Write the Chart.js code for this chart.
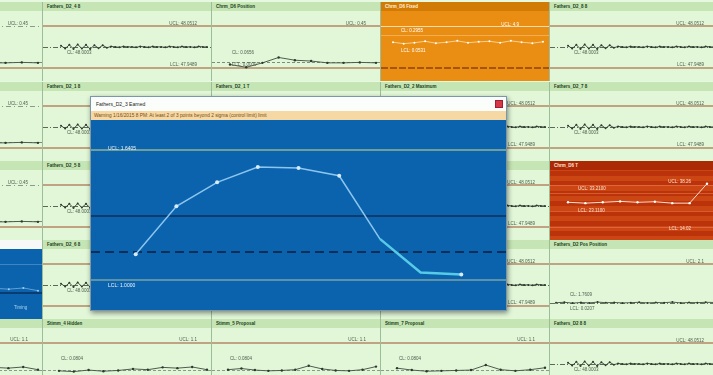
<!DOCTYPE html>
<html>
<head>
<meta charset="utf-8">
<script src="https://cdn.jsdelivr.net/npm/chart.js@4/dist/chart.umd.min.js"></script>
<style>
  body { margin:0; width:713px; height:375px; overflow:hidden; background:#e6f8de; position:relative; font-family:"Liberation Sans", Arial, sans-serif; }
  .tile { position:absolute; width:169px; height:79px; background:#e1f7d7; border-left:1px solid #9dbd99; box-sizing:border-box; overflow:hidden; }
  .tile .hd { height:9px; background:#c5e6b4; font:bold 4.5px "Liberation Sans", Arial; color:#1b3d1b; line-height:9px; padding-left:4px; white-space:nowrap; }
  .tile canvas { display:block; }
  .tile.orange { background:#e98e12; }
  .tile.orange .hd { background:#d27a06; color:#fff2da; }
  .tile.red { background:repeating-linear-gradient(#bb330a 0 5px, #cb4612 5px 10px); }
  .tile.red .hd { background:#ab2a05; color:#ffe4d6; }
  .tile.blue { background:#0b62ad; }
  .tile.blue .hd { background:#f6f9f6; color:#333; }
  #popup { position:absolute; left:90px; top:96px; width:417px; height:215px; background:#0b63ae; border:1px solid #7d97aa; box-sizing:border-box; box-shadow:1px 2px 5px rgba(0,0,0,.45); }
  #popup .title { height:14px; background:#fbfdfb; font:5px "Liberation Sans", Arial; line-height:14px; padding-left:5px; color:#222; position:relative; }
  #popup .close { position:absolute; right:3px; top:3px; width:8px; height:8px; background:#d63848; border:1px solid #9c2030; box-sizing:border-box; }
  #popup .alert { height:9px; background:#f6d8a4; font:4.8px "Liberation Sans", Arial; color:#7a4a12; line-height:9px; padding-left:3px; white-space:nowrap; }
  #popup canvas { display:block; }
</style>
</head>
<body>
<script>
// --- data ---
const noisyValues = [48.003, 47.996, 48.005, 47.995, 48.006, 47.996, 48.005, 47.995, 48.004, 47.997, 48.004, 47.998,
  48.001, 48.000, 47.999, 48.001, 48.000, 48.000, 47.999, 48.001, 48.000, 47.999, 48.001, 48.000,
  48.000, 47.999, 48.001, 48.000, 47.999, 48.001, 48.000, 48.000, 47.999, 48.001, 48.000, 48.000];
const noisyLimits = [48.0512, 48.0003, 47.9489];          // UCL, CL, LCL

const positionValues = [0.038, 0.009, 0.056, 0.113, 0.084, 0.075, 0.056, 0.056, 0.061, 0.056];
const positionLimits = [0.4500, 0.0656, 0.0000];

const fixedValues = [1.3, 1.0, 1.2, 1.5, 1.1, 1.3, 1.6, 1.2, 1.4, 1.5, 1.2, 1.6, 1.3, 1.1, 1.4];
const fixedLimits = [4.90, 0.2955, -4.31];

const tValues = [28.2, 27.7, 28.2, 28.7, 28.2, 28.5, 27.7, 27.7, 38.8];
const tLimits = [38.26, 28.16, 14.02];
const tSigma = [33.21, 23.11];

const posValues = [0.17, 0.19, 0.15, 0.18, 0.16, 0.20, 0.17, 0.18, 0.16, 0.17, 0.19, 0.16, 0.18, 0.17, 0.20, 0.16, 0.18, 0.17, 0.19, 0.18];
const posLimits = [2.10, 0.1750, 0.0000];

const stimm4Values = [0.37, 0.35, 0.39, 0.36, 0.38, 0.42, 0.40, 0.46, 0.44, 0.47, 0.40];
const stimm5Values = [0.40, 0.43, 0.39, 0.37, 0.38, 0.40, 0.50, 0.42, 0.38, 0.37, 0.40, 0.48];
const stimm7Values = [0.44, 0.39, 0.36, 0.37, 0.38, 0.39, 0.52, 0.40, 0.37, 0.40, 0.45];
const stimmLimits = [1.10, 0.0804, 0.0000];

const popupValues = [1.127, 1.363, 1.481, 1.556, 1.551, 1.513, 1.203, 1.038, 1.028];
const popupLimits = [1.6405, 1.3160, 1.1366, 1.0000];     // UCL, +1 sigma, CL, LCL

const tileTitles = [
  ['Fathers_D2_9 8', 'Fathers_D2_4 8', 'Chrm_D6 Position', 'Chrm_D6 Fixed', 'Fathers_D2_8 8'],
  ['Chrm_D5 Position', 'Fathers_D2_1 8', 'Fathers_D2_1 T', 'Fathers_D2_2 Maximum', 'Fathers_D2_7 8'],
  ['Chrm_D5 Fixed', 'Fathers_D2_5 8', 'Fathers_D2_3 T', 'Fathers_D2_3 Earned', 'Chrm_D6 T'],
  ['Stimm_3 Timing', 'Fathers_D2_6 8', 'Fathers_D2_4 T', 'Fathers_D2_5 T', 'Fathers_D2 Pos Position'],
  ['Stimm_2 Hidden', 'Stimm_4 Hidden', 'Stimm_5 Proposal', 'Stimm_7 Proposal', 'Fathers_D2 8 8']
];
const tileKinds = [
  ['edge', 'noisy', 'position', 'fixed', 'noisy'],
  ['edge', 'noisy', 'noisy', 'noisy', 'noisy'],
  ['edge', 'noisy', 'noisy', 'noisy', 'red'],
  ['blue', 'noisy', 'noisy', 'noisy', 'pos'],
  ['stimm4', 'stimm4', 'stimm5', 'stimm7', 'noisy']
];

const rowTops = [2, 82, 161, 240, 319];
const colLefts = [-127, 42, 211, 380, 549];

// draws limit lines and their labels at scale positions
const limitPlugin = {
  id: 'limits',
  beforeDatasetsDraw(chart, args, o) {
    const ctx = chart.ctx, y = chart.scales.y;
    ctx.save();
    (o.lines || []).forEach(l => {
      const py = Math.round(y.getPixelForValue(l.v)) + (l.w % 2 ? 0.5 : 0);
      ctx.strokeStyle = l.c; ctx.lineWidth = l.w; ctx.setLineDash(l.d || []);
      ctx.beginPath(); ctx.moveTo(0, py); ctx.lineTo(chart.width, py); ctx.stroke();
    });
    ctx.setLineDash([]);
    (o.labels || []).forEach(t => {
      ctx.font = t.font || '4.5px "Liberation Sans", Arial';
      ctx.fillStyle = t.c; ctx.textAlign = t.a || 'left'; ctx.textBaseline = 'middle';
      const x = t.x < 0 ? chart.width + t.x : t.x;
      ctx.fillText(t.text, x, y.getPixelForValue(t.v) + t.dy);
    });
    ctx.restore();
  }
};

const TAN = '#bfa383';
const LBL = '#4f5f4f';
const fmt = v => v.toFixed(4);

function specFor(kind) {
  if (kind === 'noisy') {
    const [u, c, l] = noisyLimits;
    return { values: noisyValues, limits: noisyLimits, line: '#3f4b3f', point: '#2d392d', pr: 1, padL: 18, padR: 3,
      lines: [{ v: u, c: TAN, w: 2 }, { v: c, c: '#5a6a57', w: 1, d: [5, 2, 1, 2] }, { v: l, c: TAN, w: 2 }],
      labels: [{ text: 'UCL: ' + fmt(u), v: u, x: -14, a: 'right', dy: -2, c: LBL },
               { text: 'CL: ' + fmt(c), v: c, x: 24, dy: 6, c: LBL },
               { text: 'LCL: ' + fmt(l), v: l, x: -14, a: 'right', dy: -3, c: LBL }] };
  }
  if (kind === 'position' || kind === 'edge') {
    const [u, c, l] = positionLimits;
    return { values: positionValues, limits: positionLimits, line: '#4f5d4f', point: '#2d392d', pr: 1.2, padL: 18, padR: 2,
      lines: [kind === 'edge' ? { v: u, c: '#8a9a86', w: 1, d: [5, 3, 1, 3] } : { v: u, c: TAN, w: 2 },
              { v: c, c: '#7d8d7a', w: 1, d: [3, 2] }, { v: l, c: TAN, w: 2 }],
      labels: [{ text: 'UCL: 0.45', v: u, x: -14, a: 'right', dy: -2, c: LBL },
               { text: 'CL: ' + fmt(c), v: c, x: 20, dy: -9, c: LBL },
               { text: 'LCL: ' + fmt(l), v: l, x: 20, dy: -3, c: LBL }] };
  }
  if (kind === 'fixed') {
    const [u, c, l] = fixedLimits;
    return { values: fixedValues, limits: fixedLimits, line: '#f7cf92', point: '#ffffff', pr: 1, padL: 12, padR: 6,
      lines: [{ v: u, c: '#f8dcae', w: 1 }, { v: c + 2.6, c: '#f2ad50', w: 1 }, { v: l, c: '#a85408', w: 2, d: [7, 2] }],
      labels: [{ text: 'UCL: 4.9', v: u, x: -30, a: 'right', dy: -1, c: '#fff' },
               { text: 'CL: ' + fmt(c), v: c, x: 20, dy: -16, c: '#fff' },
               { text: 'LCL: 0.0531', v: c, x: 20, dy: 4, c: '#fff' }] };
  }
  if (kind === 'red') {
    const [u, c, l] = tLimits;
    return { values: tValues, limits: tLimits, line: '#fbe0d0', point: '#ffffff', pr: 1.2, padL: 18, padR: 11,
      lines: [{ v: u, c: '#e0653c', w: 1 }, { v: tSigma[0], c: '#d95a2c', w: 1 }, { v: tSigma[1], c: '#d95a2c', w: 1 }, { v: l, c: '#e0653c', w: 1 }],
      labels: [{ text: 'UCL: 38.26', v: u, x: -27, a: 'right', dy: -3, c: '#ffe2d2' },
               { text: 'UCL: ' + fmt(tSigma[0]), v: tSigma[0], x: 28, dy: -5, c: '#ffe2d2' },
               { text: 'LCL: ' + fmt(tSigma[1]), v: tSigma[1], x: 28, dy: 0, c: '#ffe2d2' },
               { text: 'LCL: 14.02', v: l, x: -27, a: 'right', dy: 2, c: '#ffe2d2' }] };
  }
  if (kind === 'pos') {
    const [u, c, l] = posLimits;
    return { values: posValues, limits: posLimits, line: '#4f5d4f', point: '#2d392d', pr: 1, padL: 6, padR: 2,
      lines: [{ v: u, c: TAN, w: 2 }, { v: c, c: '#62725f', w: 1, d: [5, 2, 1, 2] }],
      labels: [{ text: 'UCL: 2.1', v: u, x: -14, a: 'right', dy: -2, c: LBL },
               { text: 'CL: 1.7609', v: c, x: 20, dy: -8, c: LBL },
               { text: 'LCL: 0.0207', v: c, x: 20, dy: 6, c: LBL }] };
  }
  if (kind === 'blue') {
    return { values: stimm4Values, limits: stimmLimits, line: '#5f9fd8', point: '#9fd0f4', pr: 1, padL: 18, padR: 3,
      lines: [{ v: stimmLimits[0], c: '#3f85c2', w: 1 }, { v: 0.33, c: '#0a3c72', w: 2 }],
      labels: [{ text: 'Timing', v: 0.33, x: -28, dy: 14, c: '#a8d4f4' }] };
  }
  const vals = kind === 'stimm4' ? stimm4Values : kind === 'stimm5' ? stimm5Values : stimm7Values;
  const [u, c, l] = stimmLimits;
  return { values: vals, limits: stimmLimits, line: '#4f5d4f', point: '#2d392d', pr: 1.2, padL: 16, padR: 4,
    lines: [{ v: u, c: TAN, w: 2 }, { v: 0.38, c: '#8a9a86', w: 1, d: [3, 2] }],
    labels: [{ text: 'UCL: 1.1', v: u, x: -14, a: 'right', dy: -3, c: LBL },
             { text: 'CL: ' + fmt(c), v: 0.38, x: 18, dy: -12, c: LBL }] };
}

function spcChart(canvas, s) {
  const [u, , l] = s.limits;
  const R = u - l;
  return new Chart(canvas, {
    type: 'line',
    data: {
      labels: s.values.map((v, i) => i + 1),
      datasets: [{ data: s.values, borderColor: s.line, borderWidth: 1, pointRadius: s.pr,
        pointBackgroundColor: s.point, pointBorderColor: s.point, pointBorderWidth: 0, tension: 0 }]
    },
    options: {
      responsive: false, animation: false, devicePixelRatio: 1, events: [],
      layout: { padding: { left: s.padL, right: s.padR, top: 0, bottom: 0 } },
      scales: {
        x: { display: false, offset: false },
        y: { display: false, min: l - R * 10 / 48, max: u + R * 12 / 48 }
      },
      plugins: { legend: { display: false }, tooltip: { enabled: false }, limits: { lines: s.lines, labels: s.labels } }
    },
    plugins: [limitPlugin]
  });
}

tileKinds.forEach((row, r) => row.forEach((kind, c) => {
  const div = document.createElement('div');
  div.className = 'tile' + (kind === 'fixed' ? ' orange' : kind === 'red' ? ' red' : kind === 'blue' ? ' blue' : '');
  div.style.left = colLefts[c] + 'px';
  div.style.top = rowTops[r] + 'px';
  const hd = document.createElement('div');
  hd.className = 'hd';
  hd.textContent = tileTitles[r][c];
  div.appendChild(hd);
  const cv = document.createElement('canvas');
  cv.width = 168; cv.height = 70;
  div.appendChild(cv);
  document.body.appendChild(div);
  spcChart(cv, specFor(kind));
}));

// --- popup detail chart ---
const popup = document.createElement('div');
popup.id = 'popup';
popup.innerHTML = '<div class="title">Fathers_D2_3 Earned<div class="close"></div></div>' +
  '<div class="alert">Warning 1/16/2015 8 PM: At least 2 of 3 points beyond 2 sigma (control limit) limit</div>';
const pc = document.createElement('canvas');
pc.width = 415; pc.height = 190;
popup.appendChild(pc);
document.body.appendChild(popup);

const [pU, pS, pC, pL] = popupLimits;
const perPx = (pU - pL) / 136;
new Chart(pc, {
  type: 'line',
  data: {
    datasets: [{
      data: popupValues.map((v, i) => ({ x: i, y: v })),
      borderColor: '#8cc6ee', borderWidth: 1.5, tension: 0,
      pointRadius: popupValues.map((v, i) => (i === 6 || i === 7) ? 0 : 2),
      pointBackgroundColor: '#d6ecfb', pointBorderColor: '#d6ecfb', pointBorderWidth: 0,
      segment: {
        borderColor: ctx => ctx.p0DataIndex >= 6 ? '#57cbe6' : '#8cc6ee',
        borderWidth: ctx => ctx.p0DataIndex >= 6 ? 2.5 : 1.5
      }
    }]
  },
  options: {
    responsive: false, animation: false, devicePixelRatio: 1, events: [],
    layout: { padding: 0 },
    scales: {
      x: { type: 'linear', display: false, min: -1, max: 9 },
      y: { display: false, min: pL - 27 * perPx, max: pU + 27 * perPx }
    },
    plugins: {
      legend: { display: false }, tooltip: { enabled: false },
      limits: {
        lines: [{ v: pU, c: '#6e9f9c', w: 2 }, { v: pS, c: '#0b3b6f', w: 2 },
                { v: pC, c: '#062f5a', w: 2, d: [9, 5] }, { v: pL, c: '#5d93a6', w: 2 }],
        labels: [{ text: 'UCL: ' + fmt(pU), v: pU, x: 17, dy: -1, c: '#eef6fb', font: '5px "Liberation Sans", Arial' },
                 { text: 'LCL: ' + fmt(pL), v: pL, x: 17, dy: 5, c: '#eef6fb', font: '5px "Liberation Sans", Arial' }]
      }
    }
  },
  plugins: [limitPlugin]
});
</script>
</body>
</html>
